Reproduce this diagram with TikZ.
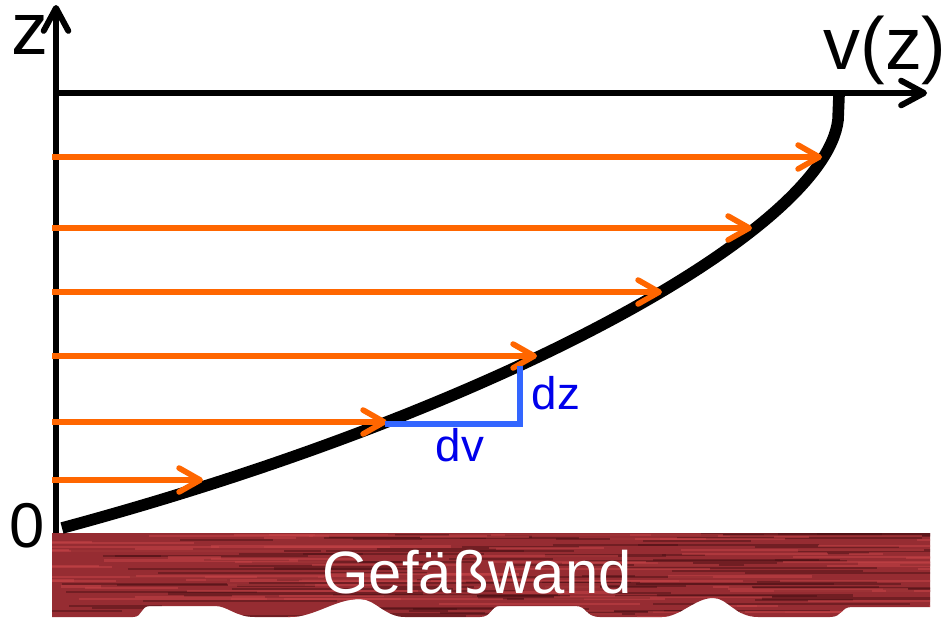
\documentclass[tikz,border=0pt]{standalone}
\usepackage{fontspec}
\setmainfont{Liberation Sans}
\usetikzlibrary{arrows.meta}
\definecolor{flowOrange}{RGB}{255,102,0}
\definecolor{slopeBlue}{RGB}{51,102,255}
\definecolor{labelBlue}{RGB}{0,0,235}
\definecolor{wallRed}{RGB}{150,44,50}
\definecolor{wallDark}{RGB}{70,14,18}
\definecolor{wallLight}{RGB}{200,68,72}
\tikzset{
  axis/.style={-{Straight Barb[length=6.5pt, width=7pt, line cap=round, line join=round]}, line width=1.7pt},
  flow/.style={-{Straight Barb[length=6pt, width=6.8pt, line cap=round, line join=round]}, line width=1.6pt, flowOrange},
  profile/.style={line width=3.3pt},
  slope/.style={line width=1.6pt, slopeBlue},
  big label/.style={font=\fontsize{21}{24}\selectfont, inner sep=0pt},
  zero label/.style={font=\fontsize{18}{20}\selectfont, inner sep=0pt},
  blue label/.style={font=\fontsize{13}{15}\selectfont, inner sep=0pt, labelBlue},
  wall label/.style={font=\fontsize{17}{20}\selectfont, inner sep=0pt, white},
}
% outline of the vessel wall (pixel units, y downwards)
\newcommand\wallpath{(52,533) -- (930,533) -- (930,607) -- (852,607)
  .. controls (840,607) and (843,617) .. (830,617) -- (758,617)
  .. controls (735,617) and (728,598) .. (713,598)
  .. controls (695,598) and (680,617) .. (662,617) -- (600,617)
  .. controls (585,617) and (588,606) .. (575,606) -- (500,606)
  .. controls (490,606) and (492,617) .. (480,617) -- (405,617)
  .. controls (385,617) and (375,599) .. (360,599)
  .. controls (335,599) and (315,617) .. (290,617) -- (255,617)
  .. controls (235,617) and (228,606) .. (215,606) -- (150,606)
  .. controls (140,606) and (143,617) .. (133,617) -- (52,617) -- cycle}

\begin{document}
\begin{tikzpicture}[x=0.01cm, y=-0.01cm]
  \useasboundingbox (0,0) rectangle (949,621);

  % Vessel wall with streaky texture
  \fill[wallRed] \wallpath;
  \begin{scope}
    \clip \wallpath;
    \pgfmathsetseed{11}
    \foreach \k in {1,...,100} {
      \pgfmathsetmacro\sy{534+rnd*84}
      \pgfmathsetmacro\sx{30+rnd*900}
      \pgfmathsetmacro\sl{40+rnd*260}
      \draw[wallDark, opacity=0.45, line width=0.6pt] (\sx,\sy) -- ++(\sl,0);
    }
    \foreach \k in {1,...,90} {
      \pgfmathsetmacro\sy{534+rnd*84}
      \pgfmathsetmacro\sx{30+rnd*900}
      \pgfmathsetmacro\sl{30+rnd*220}
      \draw[wallLight, opacity=0.5, line width=0.6pt] (\sx,\sy) -- ++(\sl,0);
    }
  \end{scope}
  \node[wall label] (wall) at (477,572) {Gefäßwand};

  % Axes
  \coordinate (O) at (56,533);
  \coordinate (ztip) at (56,5);
  \coordinate (vstart) at (56,93);
  \coordinate (vtip) at (927,93);
  \draw[axis] (O) -- (ztip);
  \draw[axis] (vstart) -- (vtip);
  \node[big label] (zlabel) at (30,35) {z};
  \node[big label] (vlabel) at (885,50) {v(z)};
  \node[zero label] (zero) at (27,526) {0};

  % Velocity profile
  \coordinate (p0) at (62,528);
  \coordinate (p1) at (838,120);
  \coordinate (p2) at (839,95);
  \draw[profile] (p0) .. controls (500,410) and (825,230) .. (p1) -- (p2);

  % Flow arrows: height / tip
  \foreach \y/\t in {157/822, 228/752, 292/662, 356/537, 422/387, 480/203} {
    \coordinate (s\y) at (52,\y);
    \coordinate (t\y) at (\t,\y);
    \draw[flow] (s\y) -- (t\y);
  }

  % Slope triangle
  \coordinate (dvstart) at (385,424);
  \coordinate (corner) at (520,424);
  \coordinate (dzend) at (520,366);
  \draw[slope] (dvstart) -- (corner) -- (dzend);
  \node[blue label] (dz) at (556,393) {dz};
  \node[blue label] (dv) at (460,445) {dv};
\end{tikzpicture}
\end{document}
